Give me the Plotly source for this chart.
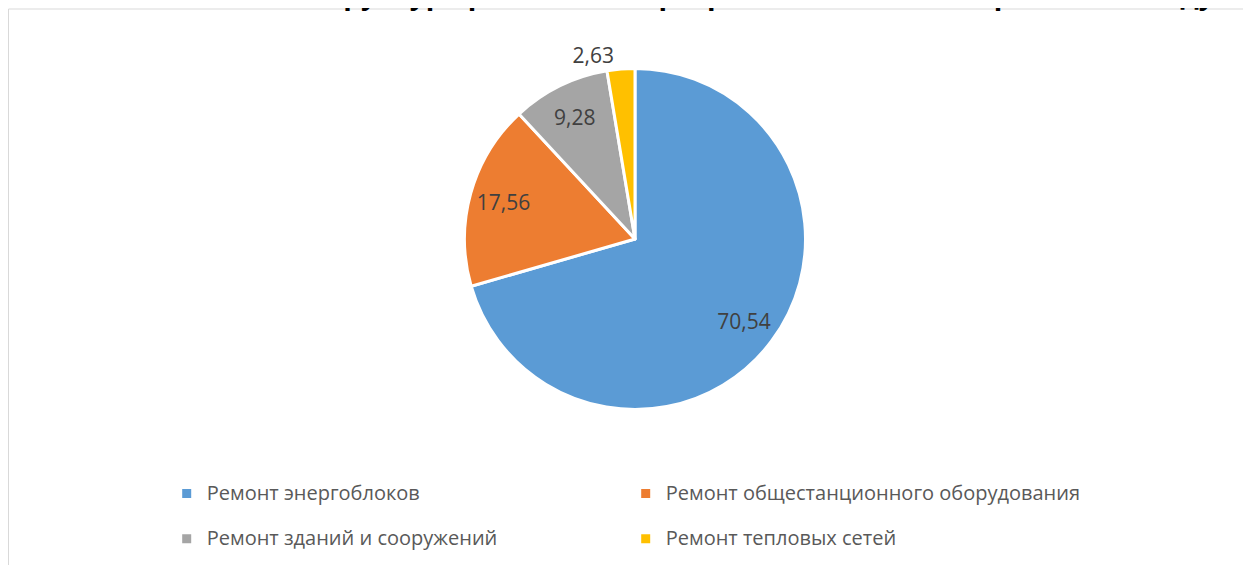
import plotly.graph_objects as go

# ---- data ----
categories = [
    "Ремонт энергоблоков",
    "Ремонт общестанционного оборудования",
    "Ремонт зданий и сооружений",
    "Ремонт тепловых сетей",
]
values = [70.54, 17.56, 9.28, 2.63]
value_labels = ["70,54", "17,56", "9,28", "2,63"]
colors = ["#5B9BD5", "#ED7D31", "#A5A5A5", "#FFC000"]
text_positions = ["inside", "inside", "inside", "outside"]
title_text = "Структура ремонтной программы ПАО «Юнипро» в 2022 году, %"

# figure size (the page shows the figure offset by the 8px body margin)
W, H = 1251, 620

def px_x(v):
    return v / W

def px_y(v):
    return 1 - v / H

# pie geometry in figure pixels
cx, cy, r = 627, 231, 170.5
pie_domain = dict(x=[px_x(cx - r), px_x(cx + r)], y=[px_y(cy + r), px_y(cy - r)])

label_font = dict(family="Open Sans", size=21, color="#404040")
legend_labels = ["<span style='font-size:20px'>" + c + "</span><br> " for c in categories]

fig = go.Figure()
# coloured slices (and legend)
fig.add_trace(go.Pie(
    labels=legend_labels,
    values=values,
    textinfo="none",
    sort=False,
    direction="clockwise",
    rotation=0,
    marker=dict(colors=colors, line=dict(color="white", width=3)),
    domain=pie_domain,
    hoverinfo="skip",
    showlegend=True,
))
# value labels layer (transparent ring so labels sit near the rim)
fig.add_trace(go.Pie(
    labels=categories,
    values=values,
    text=value_labels,
    texttemplate="%{text}",
    textposition=text_positions,
    insidetextorientation="horizontal",
    hole=0.6,
    sort=False,
    direction="clockwise",
    rotation=0,
    marker=dict(colors=["rgba(0,0,0,0)"] * len(values), line=dict(width=0)),
    textfont=label_font,
    insidetextfont=label_font,
    outsidetextfont=label_font,
    domain=pie_domain,
    hoverinfo="label+value",
    showlegend=False,
))

fig.update_layout(
    width=W, height=H,
    margin=dict(l=0, r=0, t=0, b=0),
    paper_bgcolor="white",
    plot_bgcolor="white",
    annotations=[dict(
        text="<b>" + title_text + "</b>",
        xref="paper", yref="paper",
        x=px_x(774), xanchor="center",
        y=px_y(-15.5), yanchor="middle",
        showarrow=False,
        font=dict(family="Open Sans", size=28, color="#000000"),
    )],
    legend=dict(
        orientation="h",
        x=px_x(158.7), xanchor="left",
        y=px_y(468.5), yanchor="top",
        entrywidth=414, entrywidthmode="pixels",
        valign="top",
        font=dict(family="Open Sans", size=16.2, color="#595959"),
        bgcolor="rgba(0,0,0,0)",
    ),
    shapes=[
        dict(type="line", xref="paper", yref="paper", x0=px_x(0.5), x1=px_x(0.5), y0=px_y(1), y1=px_y(H),
             line=dict(color="#D9D9D9", width=1)),
        dict(type="line", xref="paper", yref="paper", x0=px_x(0.5), x1=px_x(W), y0=px_y(1), y1=px_y(1),
             line=dict(color="#D9D9D9", width=1)),
    ],
)

fig.write_html("out.html")
